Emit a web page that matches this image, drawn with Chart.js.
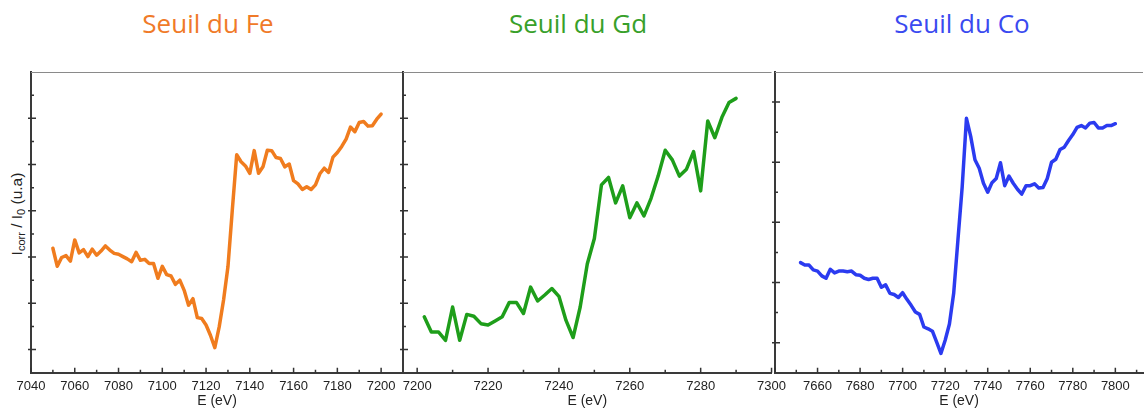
<!DOCTYPE html>
<html>
<head>
<meta charset="utf-8">
<script src="https://cdn.jsdelivr.net/npm/chart.js@4.4.1/dist/chart.umd.min.js"></script>
<style>
  body { margin: 0; background: #fff; width: 1145px; height: 419px; position: relative; overflow: hidden; }
  canvas { position: absolute; top: 0; }
  .seuil { position: absolute; top: 8px; font-family: "Open Sans", sans-serif; font-size: 26px; line-height: 30px;
           transform: translateX(-50%); white-space: nowrap; }
  #ylab { position: absolute; left: 17px; top: 214px; transform: translate(-50%, -50%) rotate(-90deg);
          font-family: "Liberation Sans", Arial, sans-serif; font-size: 15.5px; color: #222; white-space: nowrap; line-height: 16px; }
  #ylab sub { font-size: 11px; vertical-align: -3px; line-height: 0; }
</style>
</head>
<body>
<div class="seuil" style="left:208px;color:#f07a28">Seuil du Fe</div>
<div class="seuil" style="left:578px;color:#38a02a">Seuil du Gd</div>
<div class="seuil" style="left:962px;color:#3a4af0">Seuil du Co</div>
<div id="ylab">I<sub>corr</sub> / I<sub>0</sub> (u.a)</div>

<canvas id="feChart" width="420" height="419" style="left:0px"></canvas>
<canvas id="gdChart" width="406" height="419" style="left:386px"></canvas>
<canvas id="coChart" width="387" height="419" style="left:758px"></canvas>

<script>
// Fe K edge
const feEnergy = [7050, 7052, 7054, 7056, 7058, 7060, 7062, 7064, 7066, 7068,
  7070, 7072, 7074, 7076, 7078, 7080, 7082, 7084, 7086, 7088,
  7090, 7092, 7094, 7096, 7098, 7100, 7102, 7104, 7106, 7108,
  7110, 7112, 7114, 7116, 7118, 7120, 7122, 7124, 7126, 7128,
  7130, 7132, 7134, 7136, 7138, 7140, 7142, 7144, 7146, 7148,
  7150, 7152, 7154, 7156, 7158, 7160, 7162, 7164, 7166, 7168,
  7170, 7172, 7174, 7176, 7178, 7180, 7182, 7184, 7186, 7188,
  7190, 7192, 7194, 7196, 7198, 7200];
const feSignal = [2.19, 1.80, 1.99, 2.03, 1.91, 2.37, 2.09, 2.16, 2.01, 2.17,
  2.04, 2.13, 2.24, 2.15, 2.08, 2.06, 2.01, 1.96, 1.90, 2.10,
  1.93, 1.95, 1.86, 1.86, 1.54, 1.80, 1.62, 1.59, 1.41, 1.50,
  1.28, 0.96, 1.10, 0.69, 0.67, 0.53, 0.31, 0.04, 0.49, 1.07,
  1.79, 3.02, 4.21, 4.06, 3.97, 3.81, 4.30, 3.81, 3.95, 4.31,
  4.30, 4.15, 4.13, 3.95, 4.01, 3.65, 3.58, 3.46, 3.52, 3.46,
  3.56, 3.80, 3.92, 3.83, 4.16, 4.26, 4.39, 4.55, 4.81, 4.71,
  4.91, 4.93, 4.83, 4.84, 4.98, 5.09];

// Gd L3 edge
const gdEnergy = [7202, 7204, 7206, 7208, 7210, 7212, 7214, 7216, 7218, 7220,
  7222, 7224, 7226, 7228, 7230, 7232, 7234, 7236, 7238, 7240,
  7242, 7244, 7246, 7248, 7250, 7252, 7254, 7256, 7258, 7260,
  7262, 7264, 7266, 7268, 7270, 7272, 7274, 7276, 7278, 7280,
  7282, 7284, 7286, 7288, 7290];
const gdSignal = [0.71, 0.38, 0.38, 0.20, 0.92, 0.20, 0.76, 0.72, 0.56, 0.53,
  0.62, 0.71, 1.02, 1.02, 0.78, 1.35, 1.05, 1.18, 1.32, 1.15,
  0.63, 0.26, 0.92, 1.85, 2.40, 3.56, 3.72, 3.17, 3.54, 2.85,
  3.17, 2.89, 3.27, 3.75, 4.31, 4.10, 3.75, 3.90, 4.28, 3.43,
  4.94, 4.58, 5.02, 5.34, 5.43];

// Co K edge
const coEnergy = [7652, 7654, 7656, 7658, 7660, 7662, 7664, 7666, 7668, 7670,
  7672, 7674, 7676, 7678, 7680, 7682, 7684, 7686, 7688, 7690,
  7692, 7694, 7696, 7698, 7700, 7702, 7704, 7706, 7708, 7710,
  7712, 7714, 7716, 7718, 7720, 7722, 7724, 7726, 7728, 7730,
  7732, 7734, 7736, 7738, 7740, 7742, 7744, 7746, 7748, 7750,
  7752, 7754, 7756, 7758, 7760, 7762, 7764, 7766, 7768, 7770,
  7772, 7774, 7776, 7778, 7780, 7782, 7784, 7786, 7788, 7790,
  7792, 7794, 7796, 7798, 7800];
const coSignal = [1.33, 1.29, 1.29, 1.21, 1.19, 1.11, 1.07, 1.22, 1.16, 1.19,
  1.19, 1.18, 1.19, 1.13, 1.12, 1.07, 1.05, 1.07, 1.07, 0.92,
  0.96, 0.82, 0.80, 0.75, 0.83, 0.72, 0.62, 0.51, 0.47, 0.26,
  0.23, 0.19, 0.01, -0.18, 0.04, 0.31, 0.82, 1.71, 2.59, 3.73,
  3.43, 3.04, 2.90, 2.65, 2.50, 2.66, 2.73, 2.99, 2.61, 2.77,
  2.65, 2.55, 2.47, 2.61, 2.61, 2.64, 2.57, 2.58, 2.73, 3.00,
  3.05, 3.21, 3.25, 3.36, 3.46, 3.58, 3.61, 3.57, 3.65, 3.66,
  3.57, 3.57, 3.61, 3.61, 3.64];

// ticks drawn inside the frame: minor every 10 eV / 0.5, major every 20 eV / 1
const innerTicks = {
  id: 'innerTicks',
  afterDraw(chart) {
    const {ctx, chartArea: a, scales: {x, y}} = chart;
    ctx.save();
    // thin top frame line
    ctx.strokeStyle = '#8a8a8a';
    ctx.lineWidth = 1;
    ctx.beginPath();
    ctx.moveTo(a.left, a.top + 0.5);
    ctx.lineTo(a.right, a.top + 0.5);
    ctx.stroke();

    ctx.strokeStyle = '#333';
    ctx.lineWidth = 1.5;
    ctx.beginPath();
    for (let v = Math.ceil(x.min / 10) * 10; v <= x.max; v += 10) {
      const px = x.getPixelForValue(v);
      const len = v % 20 === 0 ? 5 : 3;
      ctx.moveTo(px, a.bottom);
      ctx.lineTo(px, a.bottom - len);
    }
    for (let k = Math.ceil(y.min * 2); k <= y.max * 2; k++) {
      const py = y.getPixelForValue(k / 2);
      if (py < a.top + 2 || py > a.bottom - 2) continue;
      if (k % 2 === 0) {
        ctx.moveTo(a.left - 3, py);
        ctx.lineTo(a.left + 5, py);
      } else {
        ctx.moveTo(a.left, py);
        ctx.lineTo(a.left + 3, py);
      }
    }
    ctx.stroke();
    ctx.restore();
  }
};

function makePanel(id, energy, signal, color, xMin, xMax, yMin, yMax, padLeft, padRight, hiddenLabel) {
  return new Chart(document.getElementById(id), {
    type: 'line',
    data: {
      datasets: [{
        data: energy.map((e, i) => ({x: e, y: signal[i]})),
        borderColor: color,
        borderWidth: 3.5,
        pointRadius: 0,
        tension: 0,
        borderJoinStyle: 'round',
        borderCapStyle: 'round'
      }]
    },
    options: {
      responsive: false,
      animation: false,
      layout: {padding: {left: padLeft, right: padRight, top: 72, bottom: 0}},
      plugins: {legend: {display: false}, tooltip: {enabled: false}},
      scales: {
        x: {
          type: 'linear',
          min: xMin,
          max: xMax,
          grid: {display: false, drawTicks: false},
          border: {display: true, color: '#3a3a3a', width: 2},
          ticks: {
            stepSize: 20,
            includeBounds: false,
            autoSkip: false,
            maxRotation: 0,
            padding: 6,
            color: '#222',
            font: {family: 'Liberation Sans', size: 13},
            callback: v => (v % 20 === 0 && v !== hiddenLabel) ? String(v) : ''
          },
          title: {
            display: true,
            text: 'E (eV)',
            color: '#222',
            font: {family: 'Liberation Sans', size: 14},
            padding: {top: 0, bottom: 9}
          },
          afterFit: s => { s.height = 46.3; }
        },
        y: {
          min: yMin,
          max: yMax,
          grid: {display: false, drawTicks: false},
          border: {display: true, color: '#3a3a3a', width: 2},
          ticks: {display: false},
          afterFit: s => { s.width = 0; }
        }
      }
    },
    plugins: [innerTicks]
  });
}

makePanel('feChart', feEnergy, feSignal, '#f07c1e', 7040, 7210, -0.5, 6.0, 31, 17, null);
makePanel('gdChart', gdEnergy, gdSignal, '#1e9e1a', 7196, 7300, -0.5, 6.0, 17, 17, null);
makePanel('coChart', coEnergy, coSignal, '#2b3bf0', 7640, 7813, -0.5, 4.5, 17, 2, 7640);
</script>
</body>
</html>
